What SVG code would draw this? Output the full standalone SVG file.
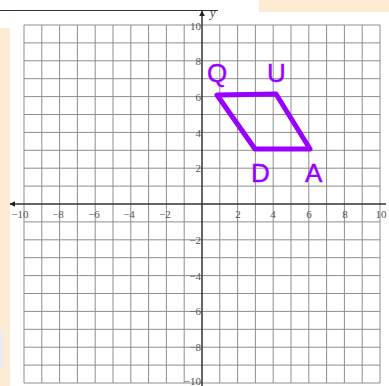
<svg xmlns="http://www.w3.org/2000/svg" width="389" height="386" viewBox="0 0 389 386">
<defs>
<style>
.grid line{stroke:#8e8e8e;stroke-width:1}
.axis{stroke:#333;stroke-width:1.5}
.tick{font-family:"Liberation Serif","Times New Roman",serif;font-size:11px;fill:#555}
.pt{font-family:"Liberation Sans",Arial,sans-serif;font-size:26px;fill:#9a00ff;stroke:#9a00ff;stroke-width:0.4}
</style>
<marker id="ah" viewBox="0 0 10 10" refX="9" refY="5" markerWidth="6" markerHeight="6" orient="auto-start-reverse" markerUnits="userSpaceOnUse">
<path d="M0,0 L10,5 L0,10 z" fill="#222"/>
</marker>
</defs>
<rect width="389" height="386" fill="#fff"/>
<rect x="259" y="0" width="130" height="12" fill="#fdebd3"/>
<rect x="0" y="28" width="10" height="358" fill="#fdebd3"/>
<rect x="0" y="330" width="3" height="40" fill="#ecebf5"/>
<line x1="0" y1="10.5" x2="218" y2="10.5" stroke="#333" stroke-width="1"/>
<g class="grid" id="grid">
<line x1="24" y1="25" x2="24" y2="383"/>
<line x1="41.8" y1="25" x2="41.8" y2="383"/>
<line x1="59.6" y1="25" x2="59.6" y2="383"/>
<line x1="77.4" y1="25" x2="77.4" y2="383"/>
<line x1="95.2" y1="25" x2="95.2" y2="383"/>
<line x1="113" y1="25" x2="113" y2="383"/>
<line x1="130.8" y1="25" x2="130.8" y2="383"/>
<line x1="148.6" y1="25" x2="148.6" y2="383"/>
<line x1="166.4" y1="25" x2="166.4" y2="383"/>
<line x1="184.2" y1="25" x2="184.2" y2="383"/>
<line x1="219.8" y1="25" x2="219.8" y2="383"/>
<line x1="237.6" y1="25" x2="237.6" y2="383"/>
<line x1="255.4" y1="25" x2="255.4" y2="383"/>
<line x1="273.2" y1="25" x2="273.2" y2="383"/>
<line x1="291" y1="25" x2="291" y2="383"/>
<line x1="308.8" y1="25" x2="308.8" y2="383"/>
<line x1="326.6" y1="25" x2="326.6" y2="383"/>
<line x1="344.4" y1="25" x2="344.4" y2="383"/>
<line x1="362.2" y1="25" x2="362.2" y2="383"/>
<line x1="380" y1="25" x2="380" y2="383"/>
<line x1="24" y1="25" x2="380" y2="25"/>
<line x1="24" y1="42.9" x2="380" y2="42.9"/>
<line x1="24" y1="60.8" x2="380" y2="60.8"/>
<line x1="24" y1="78.7" x2="380" y2="78.7"/>
<line x1="24" y1="96.6" x2="380" y2="96.6"/>
<line x1="24" y1="114.5" x2="380" y2="114.5"/>
<line x1="24" y1="132.4" x2="380" y2="132.4"/>
<line x1="24" y1="150.3" x2="380" y2="150.3"/>
<line x1="24" y1="168.2" x2="380" y2="168.2"/>
<line x1="24" y1="186.1" x2="380" y2="186.1"/>
<line x1="24" y1="221.9" x2="380" y2="221.9"/>
<line x1="24" y1="239.8" x2="380" y2="239.8"/>
<line x1="24" y1="257.7" x2="380" y2="257.7"/>
<line x1="24" y1="275.6" x2="380" y2="275.6"/>
<line x1="24" y1="293.5" x2="380" y2="293.5"/>
<line x1="24" y1="311.4" x2="380" y2="311.4"/>
<line x1="24" y1="329.3" x2="380" y2="329.3"/>
<line x1="24" y1="347.2" x2="380" y2="347.2"/>
<line x1="24" y1="365.1" x2="380" y2="365.1"/>
<line x1="24" y1="383" x2="380" y2="383"/>
</g>
<g id="axes">
<line class="axis" x1="386" y1="204" x2="10" y2="204" marker-end="url(#ah)"/>
<line class="axis" x1="202" y1="386" x2="202" y2="11" marker-end="url(#ah)"/>
<text x="210" y="17" font-family="Liberation Serif,serif" font-style="italic" font-size="12" fill="#444">y</text>
</g>
<g id="xlabels" class="tick" text-anchor="middle">
<text x="20" y="218">−10</text>
<text x="58" y="218">−8</text>
<text x="94" y="218">−6</text>
<text x="129" y="218">−4</text>
<text x="165" y="218">−2</text>
<text x="238" y="218">2</text>
<text x="273" y="218">4</text>
<text x="309" y="218">6</text>
<text x="345" y="218">8</text>
<text x="381" y="218">10</text>
</g>
<g id="ylabels" class="tick" text-anchor="end">
<text x="201" y="30">10</text>
<text x="201" y="65">8</text>
<text x="201" y="101">6</text>
<text x="201" y="137">4</text>
<text x="201" y="172">2</text>
<text x="201" y="244">−2</text>
<text x="201" y="280">−4</text>
<text x="201" y="315">−6</text>
<text x="201" y="351">−8</text>
<text x="201" y="385">−10</text>
</g>
<g id="quad">
<polygon points="217,95 276,94 310,149 255,149" fill="none" stroke="#9a00ff" stroke-width="5" stroke-linejoin="round"/>
</g>
<g id="Q"><text class="pt" x="207" y="82">Q</text></g>
<g id="U"><text class="pt" x="267" y="82">U</text></g>
<g id="D"><text class="pt" x="251" y="182">D</text></g>
<g id="A"><text class="pt" x="305" y="182">A</text></g>
</svg>
